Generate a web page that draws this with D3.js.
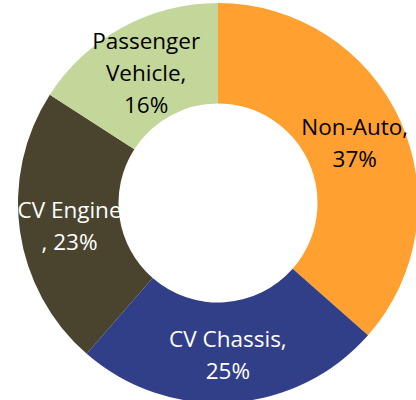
<!DOCTYPE html>
<meta charset="utf-8">
<title>Donut</title>
<style>

body {
  margin: 0;
  background: #fff;
}

text {
  font-family: "Open Sans", sans-serif;
  font-size: 22.5px;
}

</style>
<svg width="416" height="400"></svg>
<script src="https://d3js.org/d3.v7.min.js"></script>
<script>
// segment names split into the lines the labels use
var labels = [
  ["Non-Auto,", "37%"],
  ["CV Chassis,", "25%"],
  ["CV Engine", ", 23%"],
  ["Passenger", "Vehicle,", "16%"]
];
var values = [36.5, 24.9, 22.7, 15.9];
var colors = ["#ffa030", "#313f88", "#4a442e", "#c4d79b"];
var textColors = ["#000", "#fff", "#fff", "#000"];

var svg = d3.select("svg");

var cx = 218, cy = 203;
var outer = 200, inner = 99.5;
var lineHeight = 32;

var g = svg.append("g")
    .attr("transform", "translate(" + cx + "," + cy + ")");

// clockwise from 12 o'clock, in data order
var pie = d3.pie().sort(null).value(function(d) { return d; });
var arcs = pie(values);

var arc = d3.arc().innerRadius(inner).outerRadius(outer);
var labelArc = d3.arc().innerRadius(150).outerRadius(150);

g.selectAll("path")
  .data(arcs)
  .enter().append("path")
    .attr("d", arc)
    .attr("fill", function(d, i) { return colors[i]; });

var label = g.selectAll("text")
  .data(arcs)
  .enter().append("text")
    .attr("text-anchor", "middle")
    .attr("fill", function(d, i) { return textColors[i]; })
    .attr("transform", function(d) { return "translate(" + labelArc.centroid(d) + ")"; });

label.selectAll("tspan")
  .data(function(d, i) { return labels[i]; })
  .enter().append("tspan")
    .attr("x", 0)
    .attr("y", function(d, j, nodes) { return (j - (nodes.length - 1) / 2) * lineHeight + 10; })
    .text(function(d) { return d; });

</script>
